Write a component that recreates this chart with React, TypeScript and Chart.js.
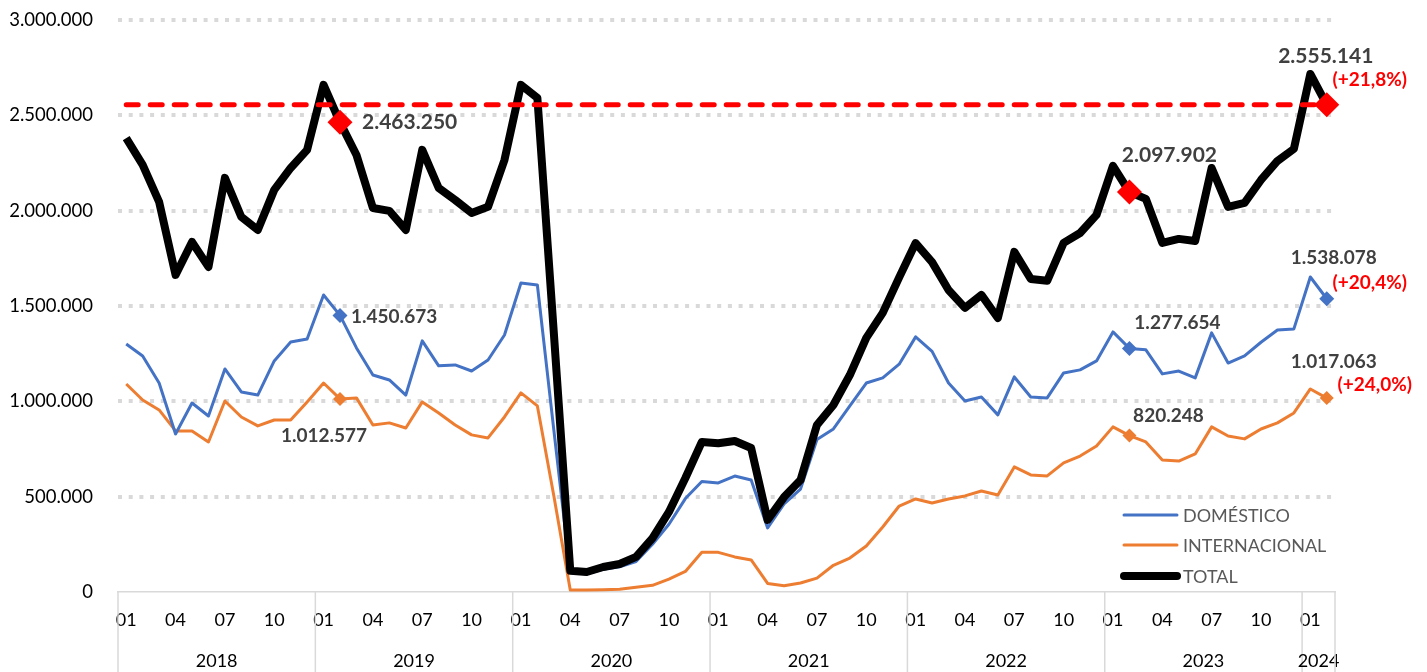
import React, { useEffect, useRef } from 'react';
import { Chart, registerables } from 'chart.js';

Chart.register(...registerables);

const MONTHS = [
  '2018-01','2018-02','2018-03','2018-04','2018-05','2018-06','2018-07','2018-08','2018-09','2018-10','2018-11','2018-12',
  '2019-01','2019-02','2019-03','2019-04','2019-05','2019-06','2019-07','2019-08','2019-09','2019-10','2019-11','2019-12',
  '2020-01','2020-02','2020-03','2020-04','2020-05','2020-06','2020-07','2020-08','2020-09','2020-10','2020-11','2020-12',
  '2021-01','2021-02','2021-03','2021-04','2021-05','2021-06','2021-07','2021-08','2021-09','2021-10','2021-11','2021-12',
  '2022-01','2022-02','2022-03','2022-04','2022-05','2022-06','2022-07','2022-08','2022-09','2022-10','2022-11','2022-12',
  '2023-01','2023-02','2023-03','2023-04','2023-05','2023-06','2023-07','2023-08','2023-09','2023-10','2023-11','2023-12',
  '2024-01','2024-02',
];

const DOMESTICO = [
  1301000, 1238000, 1096000, 829000, 991000, 923000, 1170000, 1049000, 1033000, 1212000, 1311000, 1327000,
  1558000, 1450673, 1280000, 1138000, 1112000, 1033000, 1317000, 1186000, 1191000, 1159000, 1217000, 1348000,
  1621000, 1610000, 850000, 102000, 95000, 119000, 132000, 160000, 250000, 355000, 490000, 580000,
  572000, 608000, 587000, 336000, 462000, 540000, 800000, 855000, 976000, 1096000, 1123000, 1195000,
  1338000, 1262000, 1096000, 1002000, 1023000, 929000, 1128000, 1023000, 1018000, 1149000, 1165000, 1212000,
  1364000, 1277654, 1270000, 1144000, 1159000, 1123000, 1359000, 1201000, 1238000, 1310000, 1374000, 1380000,
  1652000, 1538078,
];

const INTERNACIONAL = [
  1091000, 1007000, 955000, 845000, 845000, 787000, 1002000, 918000, 871000, 902000, 902000, 997000,
  1096000, 1012577, 1018000, 876000, 887000, 860000, 997000, 939000, 876000, 824000, 808000, 918000,
  1044000, 976000, 505000, 10000, 10000, 12000, 15000, 25000, 35000, 68000, 108000, 208000,
  208000, 184000, 168000, 45000, 33000, 47000, 73000, 140000, 178000, 241000, 341000, 451000,
  488000, 467000, 488000, 504000, 530000, 509000, 656000, 614000, 609000, 677000, 713000, 766000,
  866000, 820248, 787000, 692000, 687000, 724000, 866000, 818000, 803000, 855000, 887000, 939000,
  1065000, 1017063,
];

const TOTAL = [
  2380000, 2240000, 2046000, 1663000, 1836000, 1705000, 2172000, 1967000, 1899000, 2109000, 2224000, 2319000,
  2660000, 2463250, 2292000, 2014000, 1999000, 1899000, 2319000, 2119000, 2056000, 1988000, 2020000, 2266000,
  2660000, 2592000, 1360000, 112000, 105000, 131000, 147000, 184000, 283000, 420000, 598000, 787000,
  780000, 792000, 755000, 378000, 498000, 587000, 876000, 981000, 1138000, 1333000, 1464000, 1650000,
  1830000, 1730000, 1584000, 1490000, 1558000, 1437000, 1784000, 1642000, 1632000, 1831000, 1883000, 1978000,
  2235000, 2097902, 2062000, 1831000, 1852000, 1841000, 2224000, 2020000, 2041000, 2161000, 2261000, 2324000,
  2717000, 2555141,
];

const REFERENCE_LEVEL = 2555141;
const TICK_MONTHS = ['01', '04', '07', '10'];
const MARKED = [13, 61, 73];
const SERIES_NAMES = ['DOMÉSTICO', 'INTERNACIONAL', 'TOTAL'];
const GROWTH_TOTAL = '(+21,8%)';
const GROWTH_DOM = '(+20,4%)';
const GROWTH_INT = '(+24,0%)';

const BLUE = '#4472C4';
const ORANGE = '#ED7D31';
const BLACK = '#000000';
const RED = '#FF0000';
const LABEL_GREY = '#404040';
const GRID = '#d9d9d9';
const FONT = 'Lato, "Open Sans", sans-serif';

const fmt = (n: number) => String(Math.round(n)).replace(/\B(?=(\d{3})+(?!\d))/g, '.');

const radii = (r: number) => MONTHS.map((_, i) => (MARKED.includes(i) ? r : 0));

const ANNOTATIONS = [
  { ds: 1, i: 13, dx: 22, dy: 0, align: 'left', size: 21, color: LABEL_GREY, text: fmt(TOTAL[13]) },
  { ds: 2, i: 13, dx: 11, dy: 1, align: 'left', size: 19, color: LABEL_GREY, text: fmt(DOMESTICO[13]) },
  { ds: 3, i: 13, dx: -16, dy: 37, align: 'center', size: 19, color: LABEL_GREY, text: fmt(INTERNACIONAL[13]) },
  { ds: 1, i: 61, dx: 40, dy: -37, align: 'center', size: 21, color: LABEL_GREY, text: fmt(TOTAL[61]) },
  { ds: 2, i: 61, dx: 48, dy: -26, align: 'center', size: 19, color: LABEL_GREY, text: fmt(DOMESTICO[61]) },
  { ds: 3, i: 61, dx: 39, dy: -20, align: 'center', size: 19, color: LABEL_GREY, text: fmt(INTERNACIONAL[61]) },
  { ds: 1, i: 73, dx: -1, dy: -49, align: 'center', size: 21, color: LABEL_GREY, text: fmt(TOTAL[73]) },
  { ds: 1, i: 73, dx: 43, dy: -25, align: 'center', size: 19, color: RED, text: GROWTH_TOTAL },
  { ds: 2, i: 73, dx: 7, dy: -41, align: 'center', size: 19, color: LABEL_GREY, text: fmt(DOMESTICO[73]) },
  { ds: 2, i: 73, dx: 43, dy: -16, align: 'center', size: 19, color: RED, text: GROWTH_DOM },
  { ds: 3, i: 73, dx: 7, dy: -36, align: 'center', size: 19, color: LABEL_GREY, text: fmt(INTERNACIONAL[73]) },
  { ds: 3, i: 73, dx: 48, dy: -13, align: 'center', size: 19, color: RED, text: GROWTH_INT },
];

const annotationPlugin = {
  id: 'valueLabels',
  afterDatasetsDraw(chart: any) {
    const ctx = chart.ctx;
    ctx.save();
    ctx.textBaseline = 'middle';
    for (const a of ANNOTATIONS) {
      const pt = chart.getDatasetMeta(a.ds).data[a.i];
      if (!pt) continue;
      ctx.font = `bold ${a.size}px ${FONT}`;
      ctx.fillStyle = a.color;
      ctx.textAlign = a.align;
      ctx.fillText(a.text, pt.x + a.dx, pt.y + a.dy);
    }
    ctx.restore();
  },
};

const yearAxisPlugin = {
  id: 'yearAxis',
  afterDraw(chart: any) {
    const ctx = chart.ctx;
    const x = chart.scales.x;
    const area = chart.chartArea;
    const step = x.getPixelForValue(1) - x.getPixelForValue(0);
    const years: string[] = [];
    MONTHS.forEach((m) => {
      const y = m.slice(0, 4);
      if (!years.includes(y)) years.push(y);
    });
    ctx.save();
    ctx.strokeStyle = GRID;
    ctx.lineWidth = 1.5;
    ctx.fillStyle = '#000';
    ctx.font = `18px ${FONT}`;
    ctx.textAlign = 'center';
    ctx.textBaseline = 'middle';
    years.forEach((y) => {
      const first = MONTHS.findIndex((m) => m.startsWith(y));
      let last = first;
      MONTHS.forEach((m, i) => { if (m.startsWith(y)) last = i; });
      const left = x.getPixelForValue(first) - step / 2;
      const right = x.getPixelForValue(last) + step / 2;
      ctx.beginPath();
      ctx.moveTo(left, area.bottom);
      ctx.lineTo(left, chart.height);
      ctx.stroke();
      ctx.fillText(y, (left + right) / 2, area.bottom + 69);
    });
    ctx.beginPath();
    ctx.moveTo(area.right, area.bottom);
    ctx.lineTo(area.right, chart.height);
    ctx.stroke();
    ctx.restore();
  },
};

const legendPlugin = {
  id: 'insideLegend',
  afterDraw(chart: any) {
    const ctx = chart.ctx;
    const area = chart.chartArea;
    const items = [
      { ds: 2, dy: -77 },
      { ds: 3, dy: -47 },
      { ds: 1, dy: -16 },
    ];
    ctx.save();
    ctx.font = `18px ${FONT}`;
    ctx.textAlign = 'left';
    ctx.textBaseline = 'middle';
    items.forEach((it, k) => {
      const ds = chart.data.datasets[it.ds];
      const y = area.bottom + it.dy;
      const x0 = area.right - 211;
      const x1 = area.right - 158;
      ctx.strokeStyle = ds.borderColor;
      ctx.lineWidth = ds.borderWidth;
      ctx.lineCap = 'round';
      ctx.beginPath();
      ctx.moveTo(x0, y);
      ctx.lineTo(x1, y);
      ctx.stroke();
      ctx.fillStyle = '#595959';
      ctx.fillText(SERIES_NAMES[k], area.right - 152, y + 1);
    });
    ctx.restore();
  },
};

export default function App() {
  const canvasRef = useRef<HTMLCanvasElement | null>(null);

  useEffect(() => {
    if (!canvasRef.current) return;
    const chart = new Chart(canvasRef.current, {
      type: 'line',
      data: {
        labels: MONTHS,
        datasets: [
          {
            label: 'Referencia',
            data: MONTHS.map(() => REFERENCE_LEVEL),
            borderColor: RED,
            borderWidth: 5,
            borderDash: [12, 12],
            borderCapStyle: 'round',
            pointRadius: 0,
            pointHoverRadius: 0,
            fill: false,
            clip: false,
          },
          {
            label: SERIES_NAMES[2],
            data: TOTAL,
            borderColor: BLACK,
            borderWidth: 8,
            borderJoinStyle: 'round',
            pointStyle: 'rectRot',
            pointRadius: radii(12.5),
            pointHoverRadius: 0,
            pointBackgroundColor: RED,
            pointBorderWidth: 0,
            fill: false,
            clip: false,
          },
          {
            label: SERIES_NAMES[0],
            data: DOMESTICO,
            borderColor: BLUE,
            borderWidth: 3,
            borderJoinStyle: 'round',
            pointStyle: 'rectRot',
            pointRadius: radii(7.5),
            pointHoverRadius: 0,
            pointBackgroundColor: BLUE,
            pointBorderWidth: 0,
            fill: false,
            clip: false,
          },
          {
            label: SERIES_NAMES[1],
            data: INTERNACIONAL,
            borderColor: ORANGE,
            borderWidth: 3,
            borderJoinStyle: 'round',
            pointStyle: 'rectRot',
            pointRadius: radii(7),
            pointHoverRadius: 0,
            pointBackgroundColor: ORANGE,
            pointBorderWidth: 0,
            fill: false,
            clip: false,
          },
        ],
      },
      options: {
        responsive: false,
        animation: false,
        events: [],
        layout: { padding: { left: 0, right: 92, top: 20, bottom: 0 } },
        plugins: {
          legend: { display: false },
          tooltip: { enabled: false },
        },
        elements: { line: { tension: 0 } },
        scales: {
          x: {
            type: 'category',
            offset: true,
            grid: { display: false, drawTicks: false },
            border: { display: true, color: GRID, width: 1.5 },
            ticks: {
              autoSkip: false,
              maxRotation: 0,
              minRotation: 0,
              padding: 17,
              color: '#000',
              font: { family: FONT, size: 18 },
              callback: function (this: any, v: any) {
                const l = this.getLabelForValue(v) as string;
                const m = l.slice(5);
                return TICK_MONTHS.includes(m) ? m : '';
              },
            },
            afterFit: (scale: any) => {
              scale.height = 80;
              scale.paddingLeft = 0;
              scale.paddingRight = 0;
            },
          },
          y: {
            min: 0,
            max: 3000000,
            grid: {
              drawTicks: false,
              lineWidth: 4,
              color: (c: any) => (c.tick && c.tick.value === 0 ? 'rgba(0,0,0,0)' : GRID),
            },
            border: { display: false, dash: [4, 6.7] },
            ticks: {
              stepSize: 500000,
              padding: 25,
              color: '#000',
              font: { family: FONT, size: 18.5 },
              callback: (v: any) => fmt(Number(v)),
            },
            afterFit: (scale: any) => {
              scale.width = 118;
              scale.paddingTop = 0;
              scale.paddingBottom = 0;
            },
          },
        },
      },
      plugins: [annotationPlugin, yearAxisPlugin, legendPlugin],
    } as any);
    return () => chart.destroy();
  }, []);

  return (
    <div style={{ position: 'fixed', left: 0, top: 0, width: 1427, height: 672, background: '#fff' }}>
      <canvas ref={canvasRef} width={1427} height={672} style={{ display: 'block' }} />
    </div>
  );
}
